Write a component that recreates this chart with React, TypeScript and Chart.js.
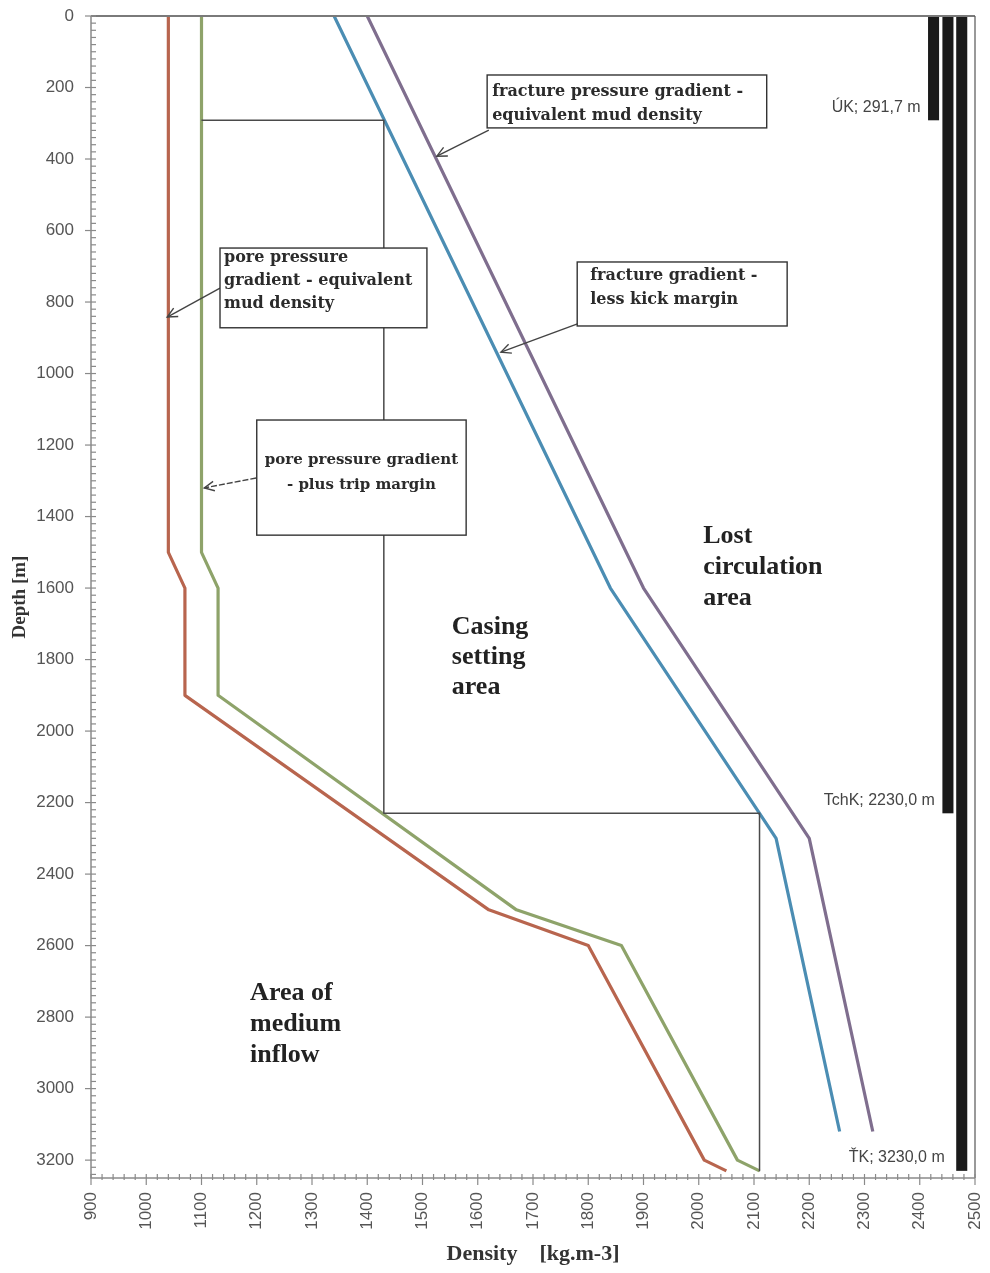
import React, { useEffect, useRef } from 'react';
import { Chart, registerables } from 'chart.js';

Chart.register(...registerables);

// ---- data (density in kg.m-3, depth in m) ----
const depthPore = [0, 1500, 1600, 1900, 2500, 2600, 3200, 3230];
const densPore = [1040, 1040, 1070, 1070, 1620, 1800, 2010, 2050];
const densTrip = [1100, 1100, 1130, 1130, 1670, 1860, 2070, 2110];

const depthFrac = [0, 1600, 2300, 3120];
const densFrac = [1400, 1900, 2200, 2315];
const densKick = [1340, 1840, 2140, 2255];

const designDens = [1100, 1430, 1430, 2110, 2110];
const designDepth = [291.7, 291.7, 2230, 2230, 3230];

const casingLabels = ['ÚK; 291,7 m', 'TchK; 2230,0 m', 'ŤK; 3230,0 m'];
const casingDepth = [291.7, 2230.0, 3230.0];
const casingDens = [2425, 2451, 2476];
const casingWidth = 20; // in density units

const xMin = 900, xMax = 2500, xStep = 100;
const yMin = 0, yMax = 3250;
const yTickValues = [0, 200, 400, 600, 800, 1000, 1200, 1400, 1600, 1800, 2000, 2200, 2400, 2600, 2800, 3000, 3200];

// callouts (data coordinates)
const annBoxes = [
  { x0: 1617, x1: 2123, y0: 165, y1: 313, lines: ['fracture pressure gradient -', 'equivalent mud density'], pad: 5, offs: [17, 41], align: 'left', size: 16 },
  { x0: 1133.5, x1: 1508, y0: 649, y1: 872, lines: ['pore pressure', 'gradient - equivalent', 'mud density'], pad: 4, offs: [10, 33, 56], align: 'left', size: 16 },
  { x0: 1200, x1: 1579, y0: 1130, y1: 1452, lines: ['pore pressure gradient', '- plus trip margin'], pad: 0, offs: [40, 65], align: 'center', size: 15 },
  { x0: 1780, x1: 2160, y0: 688, y1: 867, lines: ['fracture gradient -', 'less kick margin'], pad: 13, offs: [14, 38], align: 'left', size: 16 },
];
const arrows = [
  { x0: 1620, y0: 319, x1: 1526, y1: 392, dash: false },
  { x0: 1133.5, y0: 761, x1: 1038, y1: 842, dash: false },
  { x0: 1199, y0: 1292, x1: 1105, y1: 1320, dash: true },
  { x0: 1789, y0: 856, x1: 1642, y1: 940, dash: false },
];
const areaLabels = [
  { x: 2008, y: 1454, lines: ['Lost', 'circulation', 'area'], gap: 31 },
  { x: 1553, y: 1709, lines: ['Casing', 'setting', 'area'], gap: 30 },
  { x: 1188, y: 2733, lines: ['Area of', 'medium', 'inflow'], gap: 31 },
];

const colPore = '#b8654e';
const colTrip = '#8ea36a';
const colKick = '#4b8db3';
const colFrac = '#7f6e8e';

const pts = (xs: number[], ys: number[]) => xs.map((x, i) => ({ x, y: ys[i] }));

const decorPlugin = {
  id: 'decor',
  beforeDatasetsDraw(chart: any) {
    const ctx = chart.ctx as CanvasRenderingContext2D;
    const xs = chart.scales.x;
    const ys = chart.scales.y;
    ctx.save();
    ctx.fillStyle = '#1a1a1a';
    casingDens.forEach((d, i) => {
      const xa = xs.getPixelForValue(d - casingWidth / 2);
      const xb = xs.getPixelForValue(d + casingWidth / 2);
      const ya = ys.getPixelForValue(0);
      const yb = ys.getPixelForValue(casingDepth[i]);
      ctx.fillRect(xa, ya, xb - xa, yb - ya);
    });
    ctx.restore();
  },
  afterDatasetsDraw(chart: any) {
    const ctx = chart.ctx as CanvasRenderingContext2D;
    const xs = chart.scales.x;
    const ys = chart.scales.y;
    const { left, right, top, bottom } = chart.chartArea;
    const px = (v: number) => xs.getPixelForValue(v);
    const py = (v: number) => ys.getPixelForValue(v);
    ctx.save();

    // frame
    ctx.lineCap = 'butt';
    ctx.strokeStyle = '#7a7a7a';
    ctx.lineWidth = 2;
    ctx.beginPath(); ctx.moveTo(left, top); ctx.lineTo(right, top); ctx.stroke();
    ctx.strokeStyle = '#555';
    ctx.lineWidth = 1.2;
    ctx.beginPath(); ctx.moveTo(right, top); ctx.lineTo(right, bottom); ctx.stroke();
    ctx.strokeStyle = '#8a8a8a';
    ctx.lineWidth = 1.5;
    ctx.beginPath(); ctx.moveTo(left, top); ctx.lineTo(left, bottom); ctx.lineTo(right, bottom); ctx.stroke();

    // ticks
    ctx.lineWidth = 1.2;
    ctx.strokeStyle = '#8a8a8a';
    for (let v = xMin; v <= xMax + 0.01; v += 20) {
      const x = px(v);
      const major = Math.abs(v % 100) < 0.01;
      ctx.beginPath();
      ctx.moveTo(x, bottom - 4);
      ctx.lineTo(x, bottom + (major ? 7 : 2));
      ctx.stroke();
    }
    for (let v = yMin; v <= yMax; v += 20) {
      const y = py(v);
      const major = v % 200 === 0;
      ctx.beginPath();
      ctx.moveTo(left - (major ? 6 : 0), y);
      ctx.lineTo(left + 5, y);
      ctx.stroke();
    }

    // casing labels
    ctx.font = '16px "Liberation Sans", Arial, sans-serif';
    ctx.fillStyle = '#444';
    ctx.textBaseline = 'middle';
    ctx.textAlign = 'right';
    casingLabels.forEach((t, i) => {
      const gap = i === 2 ? 17 : 13;
      ctx.fillText(t, px(casingDens[i]) - gap, py(casingDepth[i]) - 13);
    });

    // arrows
    ctx.strokeStyle = '#444';
    ctx.lineWidth = 1.4;
    arrows.forEach((a) => {
      const x0 = px(a.x0), y0 = py(a.y0), x1 = px(a.x1), y1 = py(a.y1);
      ctx.setLineDash(a.dash ? [6, 2] : []);
      ctx.beginPath(); ctx.moveTo(x0, y0); ctx.lineTo(x1, y1); ctx.stroke();
      ctx.setLineDash([]);
      const ang = Math.atan2(y1 - y0, x1 - x0);
      const hl = 11, ha = Math.PI / 7;
      ctx.beginPath();
      ctx.moveTo(x1 - hl * Math.cos(ang - ha), y1 - hl * Math.sin(ang - ha));
      ctx.lineTo(x1, y1);
      ctx.lineTo(x1 - hl * Math.cos(ang + ha), y1 - hl * Math.sin(ang + ha));
      ctx.stroke();
    });

    // callout boxes
    annBoxes.forEach((b) => {
      const x0 = px(b.x0), x1 = px(b.x1), y0 = py(b.y0), y1 = py(b.y1);
      ctx.fillStyle = '#ffffff';
      ctx.fillRect(x0, y0, x1 - x0, y1 - y0);
      ctx.strokeStyle = '#333';
      ctx.lineWidth = 1.4;
      ctx.strokeRect(x0, y0, x1 - x0, y1 - y0);
      ctx.fillStyle = '#2b2b2b';
      ctx.font = `bold ${b.size}px "DejaVu Serif", serif`;
      ctx.textBaseline = 'middle';
      ctx.textAlign = b.align as CanvasTextAlign;
      b.lines.forEach((t, i) => {
        const tx = b.align === 'center' ? (x0 + x1) / 2 : x0 + b.pad;
        ctx.fillText(t, tx, y0 + b.offs[i]);
      });
    });

    // area labels
    ctx.fillStyle = '#222';
    ctx.font = 'bold 26px "Liberation Serif", "Times New Roman", serif';
    ctx.textAlign = 'left';
    ctx.textBaseline = 'middle';
    areaLabels.forEach((a) => {
      a.lines.forEach((t, i) => ctx.fillText(t, px(a.x), py(a.y) + i * a.gap));
    });

    ctx.restore();
  },
};

const zeroPad = (s: any) => {
  s.paddingTop = 0;
  s.paddingBottom = 0;
  s.paddingLeft = 0;
  s.paddingRight = 0;
};

export default function App() {
  const ref = useRef<HTMLCanvasElement>(null);
  useEffect(() => {
    if (!ref.current) return;
    const line = (data: any[], color: string, width: number) => ({
      data,
      showLine: true,
      borderColor: color,
      backgroundColor: color,
      borderWidth: width,
      pointRadius: 0,
      pointHoverRadius: 0,
      tension: 0,
      borderCapStyle: 'butt',
      borderJoinStyle: 'round',
    });
    const datasets: any[] = [
      line(pts(designDens, designDepth), '#4a4a4a', 1.5),
      line(pts(densPore, depthPore), colPore, 3.2),
      line(pts(densTrip, depthPore), colTrip, 3.2),
      line(pts(densKick, depthFrac), colKick, 3.2),
      line(pts(densFrac, depthFrac), colFrac, 3.2),
    ];
    const chart = new Chart(ref.current, {
      type: 'scatter',
      data: { datasets },
      plugins: [decorPlugin],
      options: {
        animation: false,
        responsive: false,
        devicePixelRatio: 1,
        layout: { padding: { top: 16, right: 15, left: 0, bottom: 0 } },
        plugins: { legend: { display: false }, tooltip: { enabled: false } },
        scales: {
          x: {
            type: 'linear',
            position: 'bottom',
            min: xMin,
            max: xMax,
            grid: { display: false, drawTicks: false },
            border: { display: false },
            ticks: {
              stepSize: xStep,
              minRotation: 90,
              maxRotation: 90,
              autoSkip: false,
              padding: 14,
              color: '#555',
              font: { family: '"Liberation Sans", Arial, sans-serif', size: 17 },
              callback: (v: any) => String(v),
            },
            title: {
              display: true,
              text: 'Density    [kg.m-3]',
              color: '#333',
              font: { family: '"Liberation Serif", "Times New Roman", serif', size: 22, weight: 'bold' },
              padding: { top: 0, bottom: 5 },
            },
            afterFit: (s: any) => { s.height = 95; zeroPad(s); },
          },
          y: {
            type: 'linear',
            reverse: true,
            min: yMin,
            max: yMax,
            grid: { display: false, drawTicks: false },
            border: { display: false },
            afterBuildTicks: (s: any) => { s.ticks = yTickValues.map((v) => ({ value: v })); },
            ticks: {
              autoSkip: false,
              padding: 17,
              color: '#555',
              font: { family: '"Liberation Sans", Arial, sans-serif', size: 17 },
              callback: (v: any) => String(v),
            },
            title: {
              display: true,
              text: 'Depth [m]',
              color: '#333',
              font: { family: '"Liberation Serif", "Times New Roman", serif', size: 19, weight: 'bold' },
              padding: { top: 9, bottom: 0 },
            },
            afterFit: (s: any) => { s.width = 91; zeroPad(s); },
          },
        },
      } as any,
    });
    return () => chart.destroy();
  }, []);
  return (
    <div style={{ position: 'absolute', left: 0, top: 0, width: 990, height: 1273, background: '#fff' }}>
      <canvas ref={ref} width={990} height={1273} style={{ display: 'block' }} />
    </div>
  );
}
